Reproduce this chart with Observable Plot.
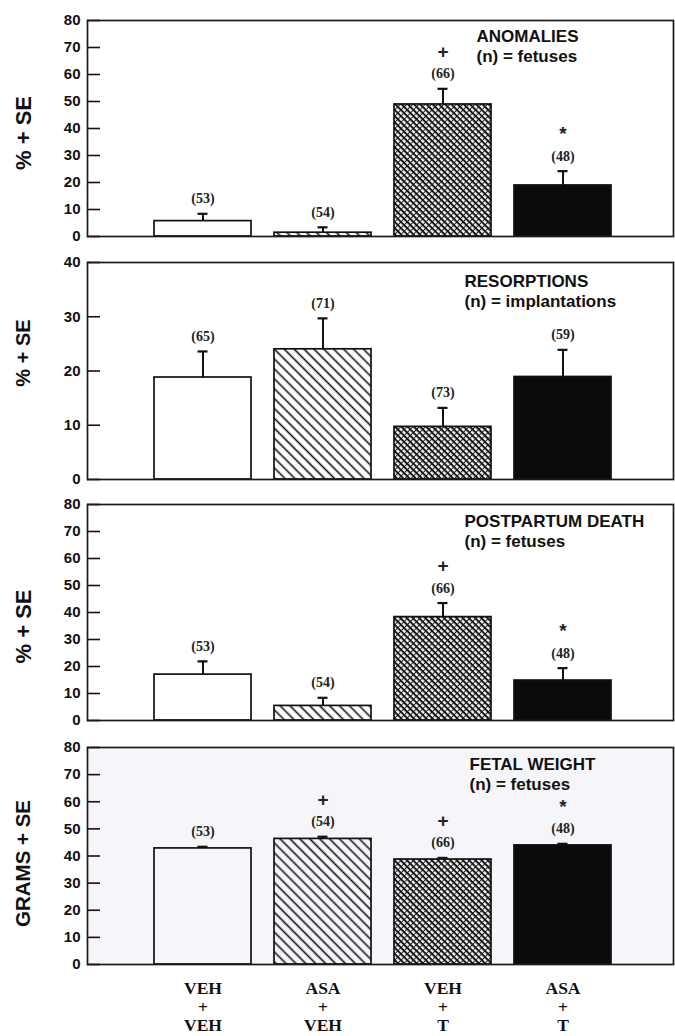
<!DOCTYPE html>
<html><head><meta charset="utf-8">
<script src="https://cdn.jsdelivr.net/npm/d3@7"></script>
<script src="https://cdn.jsdelivr.net/npm/@observablehq/plot@0.6"></script>
<style>
body{margin:0;background:#fff;}
#chart svg{display:block;}
</style>
</head><body>
<svg width="0" height="0" style="position:absolute">
<defs>
<pattern id="hatch" width="7" height="7" patternUnits="userSpaceOnUse" patternTransform="rotate(45)">
<line x1="0" y1="3.5" x2="7" y2="3.5" stroke="#111" stroke-width="1.6"/>
</pattern>
<pattern id="cross" width="4.4" height="4.4" patternUnits="userSpaceOnUse" patternTransform="rotate(45)">
<rect x="0" y="0" width="4.4" height="4.4" fill="#f4f4f4"/>
<rect x="0" y="0" width="4.4" height="2.0" fill="#151515"/>
<rect x="0" y="0" width="0.9" height="4.4" fill="#151515"/>
</pattern>
</defs>
</svg>
<div id="chart"></div>
<script>
// ---- data ----
const groups = ["VEH+VEH", "ASA+VEH", "VEH+T", "ASA+T"];
const xLabels = ["VEH\n+\nVEH", "ASA\n+\nVEH", "VEH\n+\nT", "ASA\n+\nT"];

const anomaliesPct = [5.7, 1.4, 48.9, 18.9];
const anomaliesSE = [2.7, 2.0, 5.8, 5.3];
const anomaliesN = [53, 54, 66, 48];
const anomaliesSig = ["", "", "+", "*"];

const resorptionsPct = [18.8, 24.0, 9.7, 18.9];
const resorptionsSE = [4.8, 5.7, 3.5, 5.0];
const resorptionsN = [65, 71, 73, 59];
const resorptionsSig = ["", "", "", ""];

const deathPct = [17.0, 5.4, 38.3, 14.8];
const deathSE = [4.9, 3.0, 5.2, 4.6];
const deathN = [53, 54, 66, 48];
const deathSig = ["", "", "+", "*"];

const weightG = [42.8, 46.3, 38.7, 43.9];
const weightSE = [0.6, 0.8, 0.6, 0.6];
const weightN = [53, 54, 66, 48];
const weightSig = ["", "+", "+", "*"];

const ticks80 = [0, 10, 20, 30, 40, 50, 60, 70, 80];
const ticks40 = [0, 10, 20, 30, 40];

// ---- styles ----
const fills = ["none", "url(#hatch)", "url(#cross)", "#0b0b0b"];
const W = 675, ML = 87, MR = 2;
const sans = "Liberation Sans, Arial, sans-serif";
const serif = "Liberation Serif, Times New Roman, serif";

function panel(o) {
  const data = groups.map((g, i) => ({
    group: g, value: o.values[i], top: o.values[i] + o.se[i],
    n: `(${o.n[i]})`, sig: o.sig[i], fill: fills[i]
  }));
  const marks = [
    Plot.frame({fill: o.bg || "white", stroke: null}),
    Plot.barY(data, {x: "group", y: "value", fill: "fill", stroke: "#111", strokeWidth: 1.7}),
    Plot.ruleX(data, {x: "group", y1: "value", y2: "top", stroke: "#111", strokeWidth: 2}),
    Plot.tickY(data, {x: "group", y: "top", insetLeft: 43.5, insetRight: 43.5, stroke: "#111", strokeWidth: 2.2}),
    Plot.text(data, {x: "group", y: "top", text: "n", dy: -15, lineAnchor: "middle",
      fontFamily: serif, fontWeight: "bold", fontSize: 14, fill: "#222"}),
    Plot.text(data, {x: "group", y: "top", text: "sig", dy: -37, lineAnchor: "middle",
      fontFamily: sans, fontWeight: "bold", fontSize: 19, fill: "#222"}),
    Plot.ruleY(o.ticks, {y: d => d, insetRight: W - ML - MR - 13, stroke: "#111", strokeWidth: 1.6}),
    Plot.axisY(o.ticks, {tickSize: 0, tickPadding: 7, label: null,
      fontFamily: sans, fontWeight: "bold", fontSize: 15, fill: "#111"}),
    Plot.text([o.title], {text: d => d, frameAnchor: "top-left", dx: o.tx, dy: o.ty,
      textAnchor: "start", lineAnchor: "top", lineHeight: 1.15,
      fontFamily: sans, fontWeight: "bold", fontSize: 17, fill: "#111"}),
    Plot.text([o.yLabel], {text: d => d, frameAnchor: "left", rotate: -90, dx: -64, dy: o.ldy,
      textAnchor: "middle", lineAnchor: "middle",
      fontFamily: sans, fontWeight: "bold", fontSize: o.lfs, fill: "#111"}),
    Plot.frame({stroke: "#1a1a1a", strokeWidth: 1.7})
  ];
  if (o.xAxis) {
    marks.push(Plot.text(data, {x: "group", frameAnchor: "bottom", text: (d, i) => xLabels[i],
      dy: 17, lineAnchor: "top", lineHeight: 1.04,
      fontFamily: serif, fontWeight: "bold", fontSize: 17.5, fill: "#111"}));
  }
  return Plot.plot({
    width: W, height: o.height, marginLeft: ML, marginRight: MR,
    marginTop: o.mt, marginBottom: o.mb,
    x: {domain: groups, range: [152, 612], paddingInner: 0.195, paddingOuter: 0, axis: null},
    y: {domain: [0, o.yMax]},
    color: {type: "identity"},
    style: {background: "white", overflow: "visible"},
    marks
  });
}

const chart = document.getElementById("chart");
chart.appendChild(panel({values: anomaliesPct, se: anomaliesSE, n: anomaliesN, sig: anomaliesSig,
  yMax: 80, ticks: ticks80, title: "ANOMALIES\n(n) = fetuses", yLabel: "% + SE",
  height: 248, mt: 20, mb: 12, tx: 389, ty: 8, ldy: 4.5, lfs: 22}));
chart.appendChild(panel({values: resorptionsPct, se: resorptionsSE, n: resorptionsN, sig: resorptionsSig,
  yMax: 40, ticks: ticks40, title: "RESORPTIONS\n(n) = implantations", yLabel: "% + SE",
  height: 242, mt: 14, mb: 11, tx: 377, ty: 11, ldy: -18, lfs: 20}));
chart.appendChild(panel({values: deathPct, se: deathSE, n: deathN, sig: deathSig,
  yMax: 80, ticks: ticks80, title: "POSTPARTUM DEATH\n(n) = fetuses", yLabel: "% + SE",
  height: 242, mt: 14, mb: 12, tx: 377, ty: 9, ldy: 14, lfs: 22}));
chart.appendChild(panel({values: weightG, se: weightSE, n: weightN, sig: weightSig,
  yMax: 80, ticks: ticks80, title: "FETAL WEIGHT\n(n) = fetuses", yLabel: "GRAMS + SE",
  height: 304, mt: 15, mb: 72, tx: 382, ty: 9, ldy: 7.5, lfs: 20.5, bg: "#f6f6fa", xAxis: true}));
</script>
</body></html>
